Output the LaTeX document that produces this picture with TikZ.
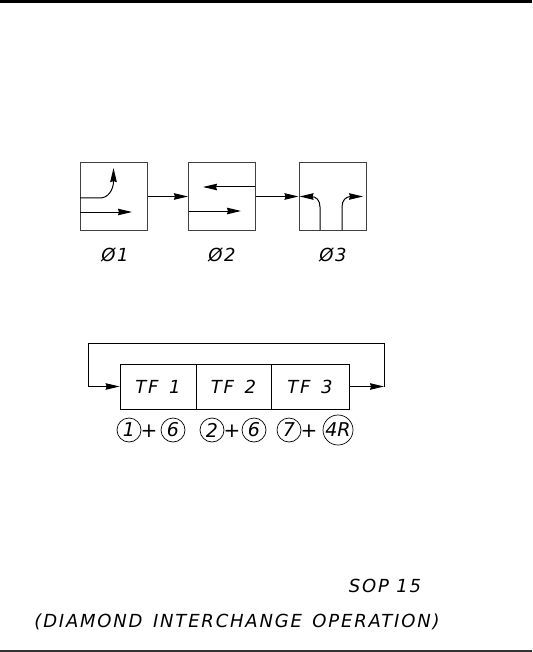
\documentclass[tikz,border=0pt]{standalone}
\usepackage{fontspec}
\setmainfont{DejaVu Sans}
\newfontfamily\plotfont[LetterSpace=10]{DejaVu Sans}
\usetikzlibrary{arrows.meta,positioning}
\tikzset
{
    phasebox/.style = {rectangle, draw=black!75, line width=1pt, minimum size=67pt, inner sep=0pt},
    tfbox/.style    = {rectangle, draw=black, line width=0.8pt, minimum height=45pt, inner sep=0pt, font=\plotfont\itshape\fontsize{18}{18}\selectfont},
    ring/.style     = {circle, draw=black, line width=0.7pt, minimum size=24pt, inner sep=0pt, font=\itshape\fontsize{19}{19}\selectfont},
    plus/.style     = {inner sep=0pt, font=\itshape\fontsize{20}{20}\selectfont},
    caption/.style  = {inner sep=0pt, font=\plotfont\itshape\fontsize{18}{18}\selectfont},
    arrow/.style    = {line width=1pt, -{Stealth[length=14pt,width=6.5pt,inset=1pt]}}
}
\begin{document}
\begin{tikzpicture}[x=1pt,y=-1pt]
\useasboundingbox (0,0) rectangle (532,652);
\node(topleft) [coordinate] at (0,1) {};
\node(topright) [coordinate] at (532,1) {};
\node(botleft) [coordinate] at (0,651) {};
\node(botright) [coordinate] at (532,651) {};
\draw[line width=3.5pt] (topleft) -- (topright);
\draw[line width=1.2pt,black!80] (botleft) -- (botright);
% phase diagram
\node(ph1) [phasebox] at (113.5,196.5) {};
\node(ph2) [phasebox] at (222,196.5) {};
\node(ph3) [phasebox] at (332.5,196.5) {};
\draw[arrow] (ph1) -- (ph2);
\draw[arrow] (ph2) -- (ph3);
\node(capa) [caption] at (115,255) {Ø1};
\node(capb) [caption] at (222,255) {Ø2};
\node(capc) [caption] at (333,255) {Ø3};
\coordinate (aL) at (80,198);
\coordinate (aT) at (113.5,168);
\coordinate (bL) at (80,212);
\coordinate (bR) at (132,212);
\draw[arrow] (aL) -- (100,198) .. controls (108,198) and (113.5,190) .. (113.5,181) -- (aT);
\draw[arrow] (bL) -- (bR);
\coordinate (cR) at (255,187);
\coordinate (cL) at (203,187);
\coordinate (dL) at (188.5,211);
\coordinate (dR) at (241,211);
\draw[arrow] (cR) -- (cL);
\draw[arrow] (dL) -- (dR);
\coordinate (eB) at (320,230);
\coordinate (eL) at (299.5,196.5);
\coordinate (fB) at (342,230);
\coordinate (fR) at (363,196.5);
\draw[arrow] (eB) -- (320,207) .. controls (320,200) and (316,196.5) .. (311,196.5) -- (eL);
\draw[arrow] (fB) -- (342,207) .. controls (342,200) and (346,196.5) .. (351,196.5) -- (fR);
% timing
\node(tf1) [tfbox,minimum width=76pt] at (158,386.5) {TF\hspace{3pt} 1};
\node(tf2) [tfbox,minimum width=75pt] at (233.5,386.5) {TF\hspace{3pt} 2};
\node(tf3) [tfbox,minimum width=78pt] at (310,386.5) {TF\hspace{3pt} 3};
\coordinate (loopa) at (384,386.5);
\coordinate (loopb) at (384,343);
\coordinate (loopc) at (88,343);
\coordinate (loopd) at (88,386.5);
\draw[arrow] (tf3.east) -- (loopa);
\draw[arrow] (loopa) -- (loopb) -- (loopc) -- (loopd) -- (tf1.west);
\node(ra) [ring] at (129,430) {1};
\node(pa) [plus] at (149,431) {+};
\node(rb) [ring] at (173,430) {6};
\node(rc) [ring] at (212,430) {2};
\node(pb) [plus] at (232,431) {+};
\node(rd) [ring] at (254,430) {6};
\node(re) [ring] at (289,430) {7};
\node(pc) [plus] at (309,431) {+};
\node(rf) [ring,minimum size=30pt] at (338,430) {4R};
% titles
\node(sop) [caption] at (385,585.5) {SOP 15};
\node(title) [caption] at (237,621.5) {(DIAMOND\hspace{3pt} INTERCHANGE\hspace{3pt} OPERATION)};
\end{tikzpicture}
\end{document}
